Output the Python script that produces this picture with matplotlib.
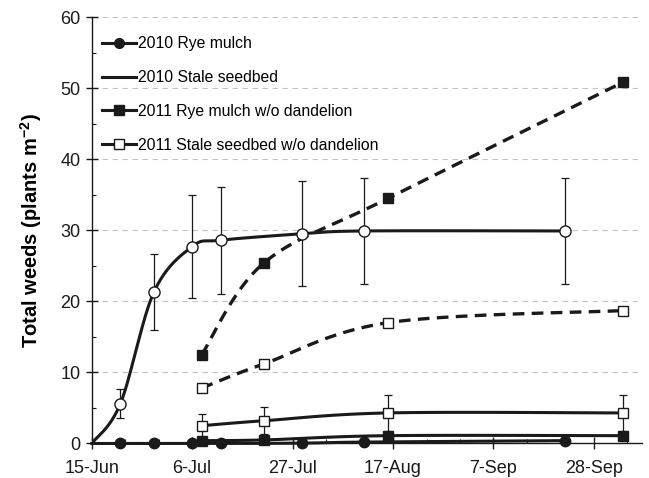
import numpy as np
import pandas as pd
import matplotlib
matplotlib.use("Agg")
import matplotlib.pyplot as plt
import matplotlib.dates as mdates
from matplotlib.lines import Line2D
from matplotlib.ticker import MultipleLocator

plt.rcParams['font.family'] = ['Liberation Sans', 'DejaVu Sans']
plt.rcParams['mathtext.fontset'] = 'custom'
plt.rcParams['mathtext.rm'] = 'Liberation Sans:bold'
plt.rcParams['mathtext.bf'] = 'Liberation Sans:bold'

# 2010 sampling dates (plotted on a common season axis)
dates_2010 = ['2011-06-15', '2011-06-21', '2011-06-28', '2011-07-06',
              '2011-07-12', '2011-07-29', '2011-08-11', '2011-09-22']
rye_2010 = [0, 0, 0, 0, 0, 0.05, 0.2, 0.4]
stale_2010 = [0, 5.6, 21.3, 27.7, 28.6, 29.5, 29.9, 29.9]
stale_2010_err = [0, 2.0, 5.3, 7.3, 7.5, 7.4, 7.4, 7.4]

# 2011 sampling dates
dates_2011 = ['2011-07-08', '2011-07-21', '2011-08-16', '2011-10-04']
rye_2011 = [0.4, 0.5, 1.1, 1.1]
stale_2011 = [2.5, 3.2, 4.3, 4.3]
stale_2011_err = [1.6, 1.9, 2.5, 2.5]
rye_2011_dand = [12.5, 25.4, 34.5, 50.8]
stale_2011_dand = [7.8, 11.2, 17.0, 18.7]

tick_dates = ['2011-06-15', '2011-07-06', '2011-07-27', '2011-08-17',
              '2011-09-07', '2011-09-28']
tick_labels = ['15-Jun', '6-Jul', '27-Jul', '17-Aug', '7-Sep', '28-Sep']

legend_labels = ['2010 Rye mulch', '2010 Stale seedbed',
                 '2011 Rye mulch w/o dandelion',
                 '2011 Stale seedbed w/o dandelion']

INK = '#1a1a1a'


def to_num(d):
    return mdates.date2num(pd.to_datetime(d))


def smooth(x, y, n=30):
    # Excel-like smoothed line: cubic Bezier with 1/6 tangents
    x = np.asarray(x, float)
    y = np.asarray(y, float)
    p = np.column_stack([x, y])
    pts = [p[0]]
    t = np.linspace(0, 1, n)[1:]
    for i in range(len(p) - 1):
        p0 = p[max(i - 1, 0)]
        p1 = p[i]
        p2 = p[i + 1]
        p3 = p[min(i + 2, len(p) - 1)]
        c1 = p1 + (p2 - p0) / 6
        c2 = p2 - (p3 - p1) / 6
        for tt in t:
            b = ((1 - tt) ** 3 * p1 + 3 * (1 - tt) ** 2 * tt * c1
                 + 3 * (1 - tt) * tt ** 2 * c2 + tt ** 3 * p2)
            pts.append(b)
    pts = np.array(pts)
    return pts[:, 0], pts[:, 1]


fig = plt.figure(figsize=(6.49, 4.78), dpi=100)
ax = fig.add_axes([0.1413, 0.0722, 0.8475, 0.8922])

x10 = to_num(dates_2010)
x11 = to_num(dates_2011)

# lines
sx, sy = smooth(x10, rye_2010)
ax.plot(sx, sy, color=INK, lw=2.2, zorder=3, clip_on=False)
sx, sy = smooth(x10, stale_2010)
ax.plot(sx, sy, color=INK, lw=2.2, zorder=3)
sx, sy = smooth(x11, rye_2011)
ax.plot(sx, sy, color=INK, lw=2.2, zorder=3)
sx, sy = smooth(x11, stale_2011)
ax.plot(sx, sy, color=INK, lw=2.2, zorder=3)
sx, sy = smooth(x11, rye_2011_dand)
ax.plot(sx, sy, color=INK, lw=2.4, ls=(0, (3.5, 2.2)), zorder=3)
sx, sy = smooth(x11, stale_2011_dand)
ax.plot(sx, sy, color=INK, lw=2.4, ls=(0, (3.5, 2.2)), zorder=3)

# error bars
ax.errorbar(x10[1:], stale_2010[1:], yerr=stale_2010_err[1:], fmt='none',
            ecolor=INK, elinewidth=0.9, capsize=3, capthick=0.9, zorder=2)
ax.errorbar(x11, stale_2011, yerr=stale_2011_err, fmt='none',
            ecolor=INK, elinewidth=0.9, capsize=3, capthick=0.9, zorder=2)

# markers
ax.plot(x10[1:], rye_2010[1:], 'o', ms=7.5, mfc=INK, mec=INK, ls='none',
        zorder=4, clip_on=False)
ax.plot(x10[1:], stale_2010[1:], 'o', ms=8, mfc='white', mec=INK, mew=1,
        ls='none', zorder=5)
ax.plot(x11, rye_2011, 's', ms=7, mfc=INK, mec=INK, ls='none', zorder=4,
        clip_on=False)
ax.plot(x11, stale_2011, 's', ms=7, mfc='white', mec=INK, mew=1,
        ls='none', zorder=5)
ax.plot(x11, rye_2011_dand, 's', ms=7, mfc=INK, mec=INK, ls='none', zorder=4)
ax.plot(x11, stale_2011_dand, 's', ms=7, mfc='white', mec=INK, mew=1,
        ls='none', zorder=5)

# axes
ax.set_xlim(to_num('2011-06-15'), to_num('2011-10-08'))
ax.set_ylim(0, 60)
ax.set_xticks(to_num(tick_dates))
ax.set_xticklabels(tick_labels)
ax.set_xticks(np.arange(to_num('2011-06-15'), to_num('2011-10-08'), 7),
              minor=True)
ax.yaxis.set_major_locator(MultipleLocator(10))
ax.yaxis.set_minor_locator(MultipleLocator(5))
for s in ['top', 'right']:
    ax.spines[s].set_visible(False)
for s in ['left', 'bottom']:
    ax.spines[s].set_color(INK)
    ax.spines[s].set_linewidth(1)
ax.tick_params(axis='x', which='major', direction='inout', length=8,
               width=1, labelsize=13, pad=8, colors=INK)
ax.tick_params(axis='x', which='minor', direction='in', length=3, width=0.8,
               colors=INK)
ax.tick_params(axis='y', which='major', direction='inout', length=8,
               width=1, labelsize=13, pad=4, colors=INK)
ax.tick_params(axis='y', which='minor', direction='in', length=3, width=0.8,
               colors=INK)
ax.yaxis.grid(True, which='major', ls=(0, (5, 4)), color='#c4c4c4', lw=0.8)
ax.get_ygridlines()[-1].set_visible(False)
ax.set_axisbelow(True)
ax.set_ylabel(r'Total weeds (plants m$^{-2}$)', fontsize=14.5,
              fontweight='bold', labelpad=12)

handles = [
    Line2D([], [], color=INK, lw=2.2, marker='o', ms=7, mfc=INK, mec=INK),
    Line2D([], [], color=INK, lw=2.2),
    Line2D([], [], color=INK, lw=2.2, marker='s', ms=7, mfc=INK, mec=INK),
    Line2D([], [], color=INK, lw=2.2, marker='s', ms=7, mfc='white', mec=INK),
]
ax.legend(handles, legend_labels, loc='upper left',
          bbox_to_anchor=(0.018, 0.955), frameon=False, fontsize=11.3,
          handlelength=2.2, handletextpad=0.1, labelspacing=1.2,
          borderpad=0, borderaxespad=0)

fig.savefig('out.png', dpi=100)
